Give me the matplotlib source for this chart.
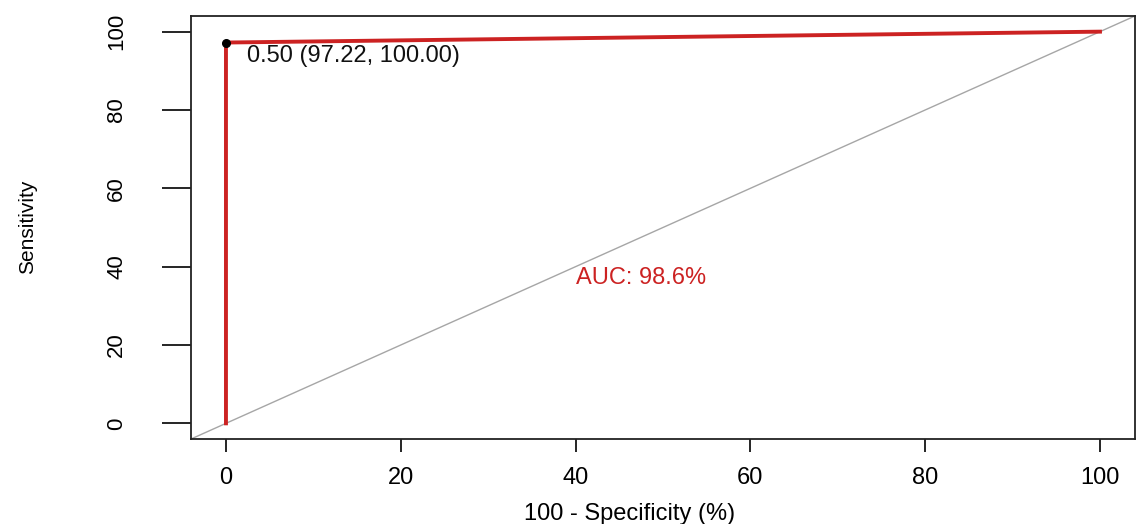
import numpy as np
import matplotlib.pyplot as plt

plt.rcParams['font.family'] = ['Liberation Sans', 'DejaVu Sans']

# ROC curve in percent: x = 100 - specificity, y = sensitivity
fpr = [0.0, 0.0, 100.0]
tpr = [0.0, 97.22, 100.0]

# best threshold and its sensitivity / specificity
thr = 0.50
thr_sens = 97.22
thr_spec = 100.00

xticks = [0, 20, 40, 60, 80, 100]
yticks = [0, 20, 40, 60, 80, 100]

auc = np.trapezoid(tpr, fpr) / 100.0

fig = plt.figure(figsize=(11.41, 5.24), dpi=100)
ax = fig.add_axes([0.1674, 0.1622, 0.8273, 0.8073])

ax.axline((0, 0), slope=1, color='#a6a6a6', lw=1.0, zorder=1)
ax.plot(fpr, tpr, color='#cc2222', lw=2.8, solid_joinstyle='miter', zorder=2)
ax.plot([100 - thr_spec], [thr_sens], 'o', color='black', ms=5.5, zorder=3)
ax.text(100 - thr_spec + 2.4, thr_sens - 3.4,
        f"{thr:.2f} ({thr_sens:.2f}, {thr_spec:.2f})",
        fontsize=17, ha='left', va='center', color='#111111')
ax.text(40, 40, f"AUC: {auc:.1f}%", fontsize=17, ha='left', va='top',
        color='#cc2222')

ax.set_xlim(-4, 104)
ax.set_ylim(-4, 104)
ax.set_xticks(xticks)
ax.set_yticks(yticks)
ax.tick_params(axis='x', length=9.5, width=1.2, pad=11, labelsize=17)
ax.tick_params(axis='y', length=21, width=1.2, pad=25, labelsize=16,
               labelrotation=90)
for lab in ax.get_yticklabels():
    lab.set_va('center')

for s in ax.spines.values():
    s.set_linewidth(1.3)
    s.set_color('#222222')

ax.set_xlabel('100 - Specificity (%)', fontsize=17, va='center')
ax.xaxis.set_label_coords(0.465, -0.177)
ax.set_ylabel('Sensitivity', fontsize=15, va='center')
ax.yaxis.set_label_coords(-0.1727, 0.501)

fig.savefig('out.png', dpi=100)
